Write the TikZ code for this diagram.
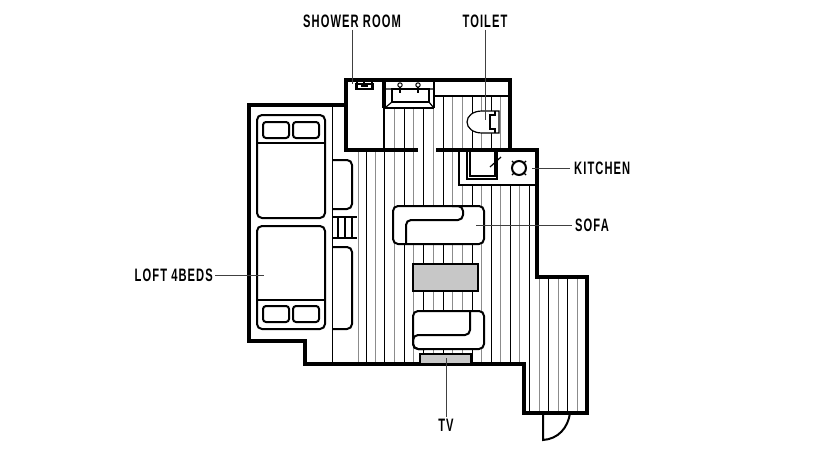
\documentclass[tikz,border=0pt]{standalone}
\usepackage{fontspec}
\newfontfamily\planfont[FakeStretch=0.62,LetterSpace=6]{Liberation Sans Bold}
\tikzset{wall/.style = {draw, line width = 3.2pt, line join = miter},
         part/.style = {draw, line width = 2pt},
         thin part/.style = {draw, line width = 1.2pt},
         floor line/.style = {draw = #1, line width = .7pt},
         floor line/.default = black,
         furniture/.style = {draw, fill = white, line width = 2pt, rounded corners = 5pt},
         screen/.style = {draw, fill = black!22, line width = 2pt},
         leader/.style = {draw = black!75, line width = .6pt},
         roomlabel/.style = {inner sep = 0pt, font = \planfont\fontsize{18}{19}\selectfont}
        }
\begin{document}
\begin{tikzpicture}[x=1pt, y=-1pt]
  \useasboundingbox (0,0) rectangle (840,460);
  % floor
  \foreach \x [count=\i] in {358,366,375,384,394,404,413,423,433,443,452}{
    \ifodd\i \def\c{black!45}\else \def\c{black}\fi
    \ifnum\i<4 \def\t{150}\else \ifnum\i<10 \def\t{108}\else \def\t{97}\fi\fi
    \draw[floor line=\c] (\x,\t) -- (\x,364);
  }
  \foreach \x [count=\i] in {462,472,481,491,500,510,519}{
    \ifodd\i \def\c{black!45}\else \def\c{black}\fi
    \draw[floor line=\c] (\x,185) -- (\x,364);
    \ifnum\i<6 \draw[floor line=\c] (\x,97) -- (\x,150);\fi
  }
  \draw[floor line] (529,185) -- (529,413);
  \foreach \x [count=\i] in {539,548,558,567,577}{
    \ifodd\i \def\c{black!45}\else \def\c{black}\fi
    \draw[floor line=\c] (\x,277) -- (\x,413);
  }
  % walls
  \draw[wall] (249,105) -- (346,105) -- (346,80) -- (510,80) -- (510,150) -- (537,150)
              -- (537,277) -- (587,277) -- (587,413) -- (524,413) -- (524,364)
              -- (305,364) -- (305,341) -- (249,341) -- cycle;
  \draw[wall] (346,105) -- (346,150) -- (418,150);
  \draw[wall] (436,150) -- (510,150);
  \draw[wall] (384,80) -- (384,108);
  \draw[part] (384,108) -- (434,108);
  \draw[thin part] (384,108) -- (384,150);
  \draw[line width = 2.5pt] (384,140) -- (384,150);
  \draw[thin part] (434,80) -- (434,108);
  \draw[part] (434,96) -- (510,96);
  % door
  \draw[part] (543,413) -- (543,440) .. controls (558,439) and (568,428) .. (570,413);
  % loft
  \draw[floor line] (332,105) -- (332,364);
  \draw[furniture, fill = none] (332,160) -- (352,160) -- (352,209) -- (332,209);
  \draw[furniture, fill = none] (332,247) -- (352,247) -- (352,329) -- (332,329);
  \draw[part] (332,217) -- (357,217);
  \draw[part] (332,238) -- (357,238);
  \foreach \x in {338,345,352}
    \draw[thin part] (\x,217) -- (\x,238);
  % beds
  \draw[furniture] (257,115) rectangle (325,218);
  \draw[part] (257,143) -- (325,143);
  \draw[furniture] (257,226) rectangle (325,329);
  \draw[part] (257,300) -- (325,300);
  \foreach \x in {263,293}{
    \draw[furniture, rounded corners = 3pt] (\x,122) rectangle ++(26,16);
    \draw[furniture, rounded corners = 3pt] (\x,306) rectangle ++(26,16);
  }
  % shower
  \draw[thin part] (356,84) rectangle (373,89);
  \draw[line width = 1.8pt] (357,82) -- (357,90) (372,82) -- (372,90) (361,86) -- (368,86);
  \draw[thin part] (364,81) -- (364,85);
  % wash basin
  \draw[thin part] (392,89) rectangle (429,102);
  \draw[thin part] (392,102) -- (386,107) (429,102) -- (433,107) (392,89) -- (386,89) (429,89) -- (433,89);
  \foreach \x in {400,418}{
    \draw[line width = 1pt] (\x,85) circle (2.2pt);
    \draw[line width = 1.5pt] (\x,87) -- (\x,93);
  }
  % toilet
  \draw[thin part, fill = white] (499,111) -- (482,111)
    .. controls (473,111) and (467,116) .. (467,122)
    .. controls (467,128) and (473,133) .. (482,133) -- (499,133) -- cycle;
  \draw[thin part] (495,111) -- (495,115) -- (490,115) -- (490,129) -- (495,129) -- (495,133);
  % kitchen
  \draw[part] (459,150) -- (459,185) -- (537,185);
  \draw[part] (467,150) -- (467,179) -- (497,179) -- (497,150);
  \draw[thin part] (470,150) -- (470,176) -- (495,176) -- (495,150);
  \draw[thin part] (490,167) -- (501,157);
  \draw[part] (519,168) circle (7pt);
  \foreach \a in {45,135,225,315}
    \draw[thin part] (519,168) ++(\a:6pt) -- ++(\a:4pt);
  % sofas
  \draw[furniture] (393,206) rectangle (484,244);
  \draw[part, rounded corners = 5pt] (406,244) -- (406,220) -- (463,220) -- (463,206) -- (452,206);
  \draw[furniture] (413,311) rectangle (484,349);
  \draw[part, rounded corners = 5pt] (470,311) -- (470,335) -- (413,335) -- (413,349) -- (425,349);
  % table and tv
  \draw[screen] (413,264) rectangle (478,291);
  \draw[screen] (420,354) rectangle (471,364);
  % labels
  \node[roomlabel] (shower) at (352,21) {SHOWER ROOM};
  \node[roomlabel] (toilet) at (485,21) {TOILET};
  \node[roomlabel, anchor = west] (kitchen) at (574,168) {KITCHEN};
  \node[roomlabel, anchor = west] (sofa) at (575,225) {SOFA};
  \node[roomlabel, anchor = east] (loft) at (213,275) {LOFT 4BEDS};
  \node[roomlabel] (tv) at (446,425) {TV};
  \coordinate (shower end) at (352,84);
  \coordinate (toilet end) at (485,120);
  \coordinate (kitchen end) at (532,168);
  \coordinate (sofa end) at (476,225);
  \coordinate (loft end) at (264,275);
  \coordinate (tv end) at (446,358);
  \draw[leader] (shower.south -| shower end) ++(0,2) -- (shower end);
  \draw[leader] (toilet.south) ++(0,2) -- (toilet end);
  \draw[leader] (kitchen.west) ++(-4,0) -- (kitchen end);
  \draw[leader] (sofa.west) ++(-3,0) -- (sofa end);
  \draw[leader] (loft.east) ++(2,0) -- (loft end);
  \draw[leader] (tv.north) ++(0,-2) -- (tv end);
\end{tikzpicture}
\end{document}
